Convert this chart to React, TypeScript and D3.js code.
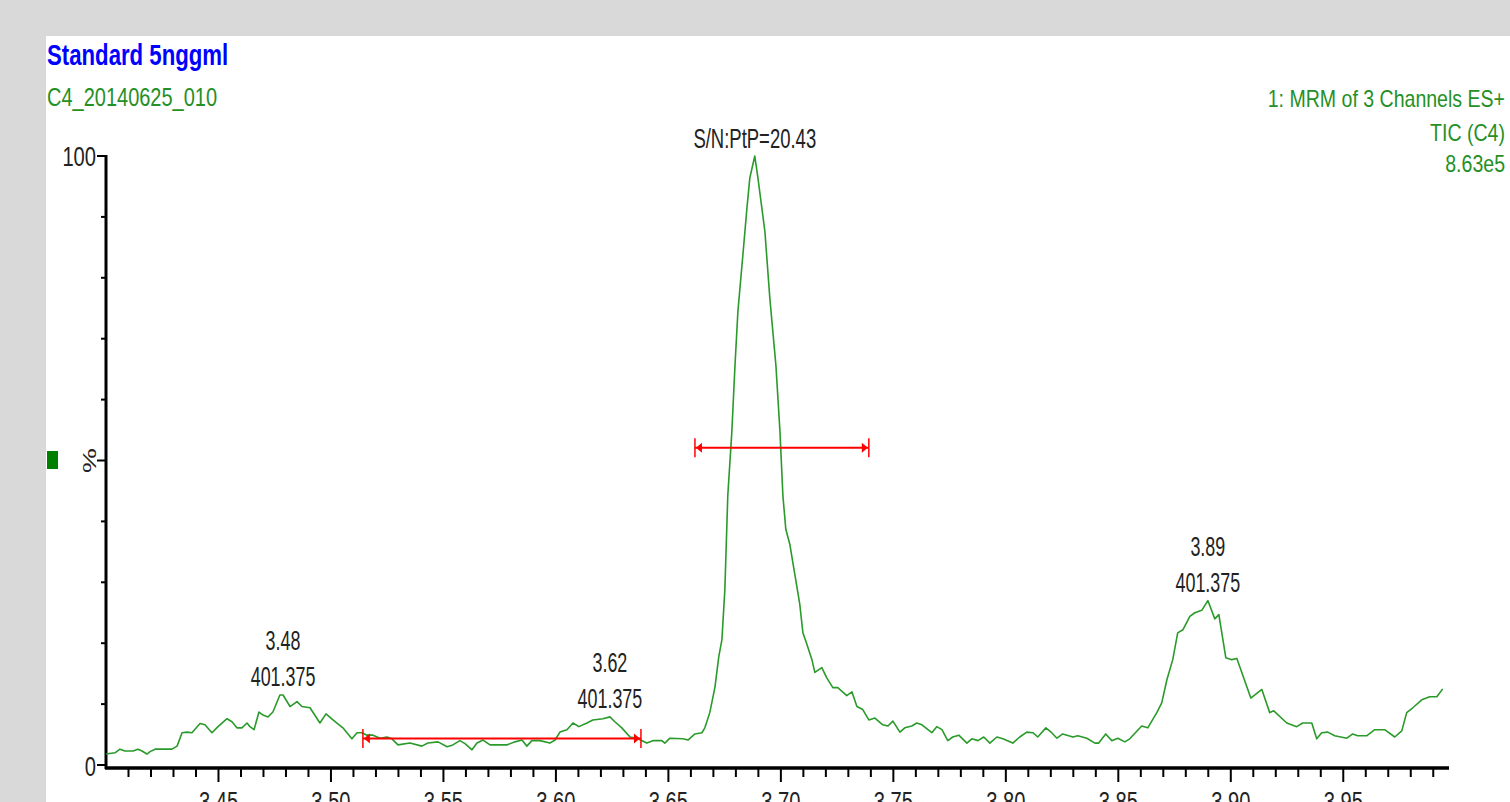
import * as d3 from "d3";
import React, { useEffect, useRef } from "react";

const W = 1510;
const H = 802;
const FONT = "'Liberation Sans', Arial, sans-serif";

// retention time (min)
const times = [
  3.4000, 3.4040, 3.4062, 3.4084, 3.4120, 3.4142, 3.4160, 3.4182, 3.4196, 3.4218,
  3.4293, 3.4316, 3.4338, 3.4360, 3.4382, 3.4418, 3.4440, 3.4471, 3.4498, 3.4538,
  3.4560, 3.4582, 3.4604, 3.4627, 3.4640, 3.4658, 3.4680, 3.4698, 3.4720, 3.4742,
  3.4773, 3.4787, 3.4818, 3.4849, 3.4871, 3.4907, 3.4951, 3.4978, 3.5009, 3.5053,
  3.5093, 3.5116, 3.5138, 3.5160, 3.5187, 3.5218, 3.5249, 3.5271, 3.5298, 3.5351,
  3.5404, 3.5431, 3.5476, 3.5516, 3.5542, 3.5573, 3.5596, 3.5627, 3.5649, 3.5676,
  3.5707, 3.5782, 3.5818, 3.5849, 3.5871, 3.5893, 3.5929, 3.5973, 3.5996, 3.6018,
  3.6049, 3.6076, 3.6102, 3.6138, 3.6164, 3.6209, 3.6240, 3.6262, 3.6293, 3.6329,
  3.6360, 3.6404, 3.6431, 3.6471, 3.6484, 3.6507, 3.6564, 3.6587, 3.6618, 3.6649,
  3.6662, 3.6684, 3.6707, 3.6724, 3.6738, 3.6751, 3.6764, 3.6782, 3.6796, 3.6809,
  3.6831, 3.6849, 3.6862, 3.6884, 3.6898, 3.6929, 3.6951, 3.6978, 3.6996, 3.7009,
  3.7022, 3.7040, 3.7062, 3.7084, 3.7098, 3.7116, 3.7138, 3.7151, 3.7182, 3.7204,
  3.7231, 3.7253, 3.7293, 3.7316, 3.7338, 3.7364, 3.7391, 3.7418, 3.7453, 3.7476,
  3.7498, 3.7529, 3.7551, 3.7582, 3.7604, 3.7627, 3.7671, 3.7693, 3.7716, 3.7742,
  3.7764, 3.7791, 3.7827, 3.7849, 3.7876, 3.7902, 3.7929, 3.7960, 3.7987, 3.8031,
  3.8062, 3.8093, 3.8120, 3.8142, 3.8178, 3.8204, 3.8227, 3.8253, 3.8298, 3.8320,
  3.8360, 3.8396, 3.8413, 3.8444, 3.8471, 3.8498, 3.8529, 3.8551, 3.8604, 3.8631,
  3.8671, 3.8693, 3.8716, 3.8742, 3.8764, 3.8787, 3.8818, 3.8840, 3.8871, 3.8898,
  3.8929, 3.8947, 3.8978, 3.9004, 3.9027, 3.9089, 3.9138, 3.9173, 3.9191, 3.9249,
  3.9293, 3.9320, 3.9360, 3.9382, 3.9404, 3.9431, 3.9462, 3.9516, 3.9542, 3.9564,
  3.9604, 3.9640, 3.9684, 3.9729, 3.9760, 3.9782, 3.9809, 3.9849, 3.9884, 3.9916,
  3.9942,
];

// relative intensity (%)
const intensity = [
  1.8, 2.0, 2.6, 2.3, 2.3, 2.6, 2.3, 1.8, 2.2, 2.6,
  2.6, 3.1, 5.3, 5.4, 5.3, 6.8, 6.6, 5.3, 6.3, 7.6,
  7.1, 6.1, 6.1, 6.9, 6.3, 5.8, 8.7, 8.2, 7.9, 8.7,
  11.5, 11.5, 9.6, 10.4, 9.6, 9.4, 6.9, 8.4, 7.4, 6.1,
  4.3, 5.3, 5.3, 4.9, 4.9, 4.4, 4.6, 4.3, 3.3, 3.6,
  3.1, 3.6, 3.8, 3.0, 3.3, 4.0, 3.5, 2.5, 3.6, 4.1,
  3.3, 3.3, 3.8, 4.1, 3.1, 4.0, 4.0, 3.6, 4.1, 5.4,
  5.8, 6.9, 6.3, 6.9, 7.4, 7.6, 7.9, 7.1, 6.1, 4.6,
  4.4, 3.6, 4.0, 4.0, 3.6, 4.4, 4.3, 4.1, 5.1, 5.3,
  6.1, 8.6, 12.8, 17.8, 20.6, 28.8, 44.2, 54.7, 65.6, 74.5,
  83.7, 91.4, 96.4, 100, 96.4, 87.6, 76.6, 65.6, 54.7, 44.2,
  38.7, 36.2, 31.3, 26.4, 21.7, 19.8, 17.3, 15.2, 16.0, 14.3,
  12.7, 12.7, 11.4, 12.0, 9.6, 9.1, 7.4, 7.7, 6.6, 6.4,
  7.2, 5.4, 6.1, 6.4, 6.9, 6.6, 5.3, 6.3, 5.8, 4.0,
  4.6, 4.9, 3.6, 4.3, 4.0, 4.6, 3.6, 4.6, 4.3, 3.6,
  4.6, 5.4, 5.3, 4.6, 6.1, 5.3, 4.4, 5.1, 4.6, 4.8,
  4.4, 3.6, 3.6, 5.1, 4.0, 4.4, 3.8, 4.3, 6.4, 6.1,
  8.6, 10.2, 14.0, 17.3, 21.7, 22.2, 24.4, 25.0, 25.4, 27.0,
  24.0, 24.7, 17.6, 17.3, 17.5, 11.0, 12.4, 8.6, 8.9, 6.9,
  6.3, 6.9, 6.9, 4.3, 5.3, 5.4, 4.8, 4.4, 5.1, 4.8,
  4.8, 5.8, 5.8, 4.6, 5.6, 8.6, 9.4, 10.7, 11.2, 11.2,
  12.5,
];

const peakRT = ["3.48", "3.62", "3.89"];
const peakMass = ["401.375", "401.375", "401.375"];
const peakApexTime = [3.4787, 3.624, 3.8898];
const peakApexPct = [11.5, 7.9, 27.0];

const snText = "S/N:PtP=20.43";
const snApexTime = 3.6884;
const snApexPct = 100;

// red range bars: [start, end, level %]
const noiseBar = [3.5142, 3.6378, 4.35];
const widthBar = [3.6618, 3.7391, 52.1];

const titleText = "Standard 5nggml";
const sampleText = "C4_20140625_010";
const infoLines = ["1: MRM of 3 Channels ES+", "TIC (C4)", "8.63e5"];

const xDomain = [3.4, 3.997];
const yDomain = [0, 100];

export default function App() {
    const ref = useRef<SVGSVGElement>(null);

    useEffect(() => {
        const svg = d3.select(ref.current);
        svg.selectAll("*").remove();

        const x = d3.scaleLinear().domain(xDomain).range([106, 1449]);
        const y = d3.scaleLinear().domain(yDomain).range([765, 156]);

        const text = (g, px, py, str, size, sx, anchor = "start", fill = "#222", weight = "normal") =>
            g
                .append("text")
                .attr("transform", `translate(${px},${py}) scale(${sx},1)`)
                .attr("font-family", FONT)
                .attr("font-size", size)
                .attr("font-weight", weight)
                .attr("text-anchor", anchor)
                .attr("fill", fill)
                .text(str);

        svg.append("rect").attr("width", W).attr("height", H).attr("fill", "#d9d9d9");
        svg.append("rect").attr("x", 46).attr("y", 36).attr("width", W - 46).attr("height", H - 36).attr("fill", "#fff");

        // header
        text(svg, 47, 65, titleText, 30, 0.74, "start", "#0000ff", "bold");
        text(svg, 47, 106, sampleText, 25, 0.8, "start", "#259025");
        const info = [107, 141, 172];
        infoLines.forEach((s, i) => text(svg, 1505, info[i], s, 23, 0.85, "end", "#259025"));

        // marker square
        svg.append("rect").attr("x", 47).attr("y", 451).attr("width", 11).attr("height", 18).attr("fill", "#008000");

        // y axis
        const gy = svg.append("g");
        gy.append("line").attr("x1", 106).attr("x2", 106).attr("y1", y(100) - 1).attr("y2", 769)
            .attr("stroke", "#000").attr("stroke-width", 3);
        gy.selectAll("line.tick")
            .data(y.ticks(10))
            .join("line")
            .attr("class", "tick")
            .attr("x1", (d) => (d % 50 === 0 ? 97 : 101))
            .attr("x2", 106)
            .attr("y1", (d) => y(d))
            .attr("y2", (d) => y(d))
            .attr("stroke", "#000")
            .attr("stroke-width", 2);
        text(gy, 96, y(100) + 10, "100", 28, 0.72, "end");
        text(gy, 96, y(0) + 11, "0", 28, 0.72, "end");
        gy.append("text")
            .attr("transform", `translate(${90},${y(50)}) scale(0.64,1) rotate(-90)`)
            .attr("font-family", FONT)
            .attr("font-size", 28)
            .attr("text-anchor", "middle")
            .attr("dy", "0.35em")
            .attr("fill", "#222")
            .text("%");

        // x axis
        const gx = svg.append("g");
        gx.append("line").attr("x1", 105).attr("x2", 1449).attr("y1", 768).attr("y2", 768)
            .attr("stroke", "#000").attr("stroke-width", 3.5);
        const minor = x.ticks(60).filter((d) => d > 3.405);
        gx.selectAll("line.tick")
            .data(minor)
            .join("line")
            .attr("class", "tick")
            .attr("x1", (d) => x(d))
            .attr("x2", (d) => x(d))
            .attr("y1", 769)
            .attr("y2", (d) => (Math.round(d * 100) % 5 === 0 ? 782 : 777))
            .attr("stroke", "#000")
            .attr("stroke-width", 2);
        x.ticks(12)
            .filter((d) => d > 3.405)
            .forEach((d) => text(gx, x(d), 811, d.toFixed(2), 28, 0.72, "middle"));

        // trace
        const line = d3
            .line<number>()
            .x((_, i) => x(times[i]))
            .y((d) => y(d));
        svg.append("path")
            .datum(intensity)
            .attr("d", line)
            .attr("fill", "none")
            .attr("stroke", "#2a9a2a")
            .attr("stroke-width", 1.6)
            .attr("stroke-linejoin", "round");

        // red range bars
        [noiseBar, widthBar].forEach(([t0, t1, lv]) => {
            const g = svg.append("g").attr("stroke", "#ff0000").attr("fill", "#ff0000");
            const x0 = x(t0), x1 = x(t1), yy = y(lv);
            g.append("line").attr("x1", x0).attr("x2", x1).attr("y1", yy).attr("y2", yy).attr("stroke-width", 2);
            [x0, x1].forEach((xx) =>
                g.append("line").attr("x1", xx).attr("x2", xx).attr("y1", yy - 9.5).attr("y2", yy + 9.5).attr("stroke-width", 1.5)
            );
            g.append("path").attr("stroke", "none").attr("d", `M${x0 + 1},${yy} L${x0 + 7},${yy - 5} L${x0 + 7},${yy + 5} Z`);
            g.append("path").attr("stroke", "none").attr("d", `M${x1 - 1},${yy} L${x1 - 7},${yy - 5} L${x1 - 7},${yy + 5} Z`);
        });

        // peak labels
        peakRT.forEach((rt, i) => {
            const px = x(peakApexTime[i]);
            const py = y(peakApexPct[i]);
            text(svg, px, py - 45, rt, 28, 0.64, "middle");
            text(svg, px, py - 9, peakMass[i], 28, 0.64, "middle");
        });
        text(svg, x(snApexTime), y(snApexPct) - 8, snText, 28, 0.66, "middle");
    }, []);

    return (
        <svg
            ref={ref}
            width={W}
            height={H}
            style={{ position: "absolute", left: 0, top: 0, display: "block" }}
        />
    );
}
